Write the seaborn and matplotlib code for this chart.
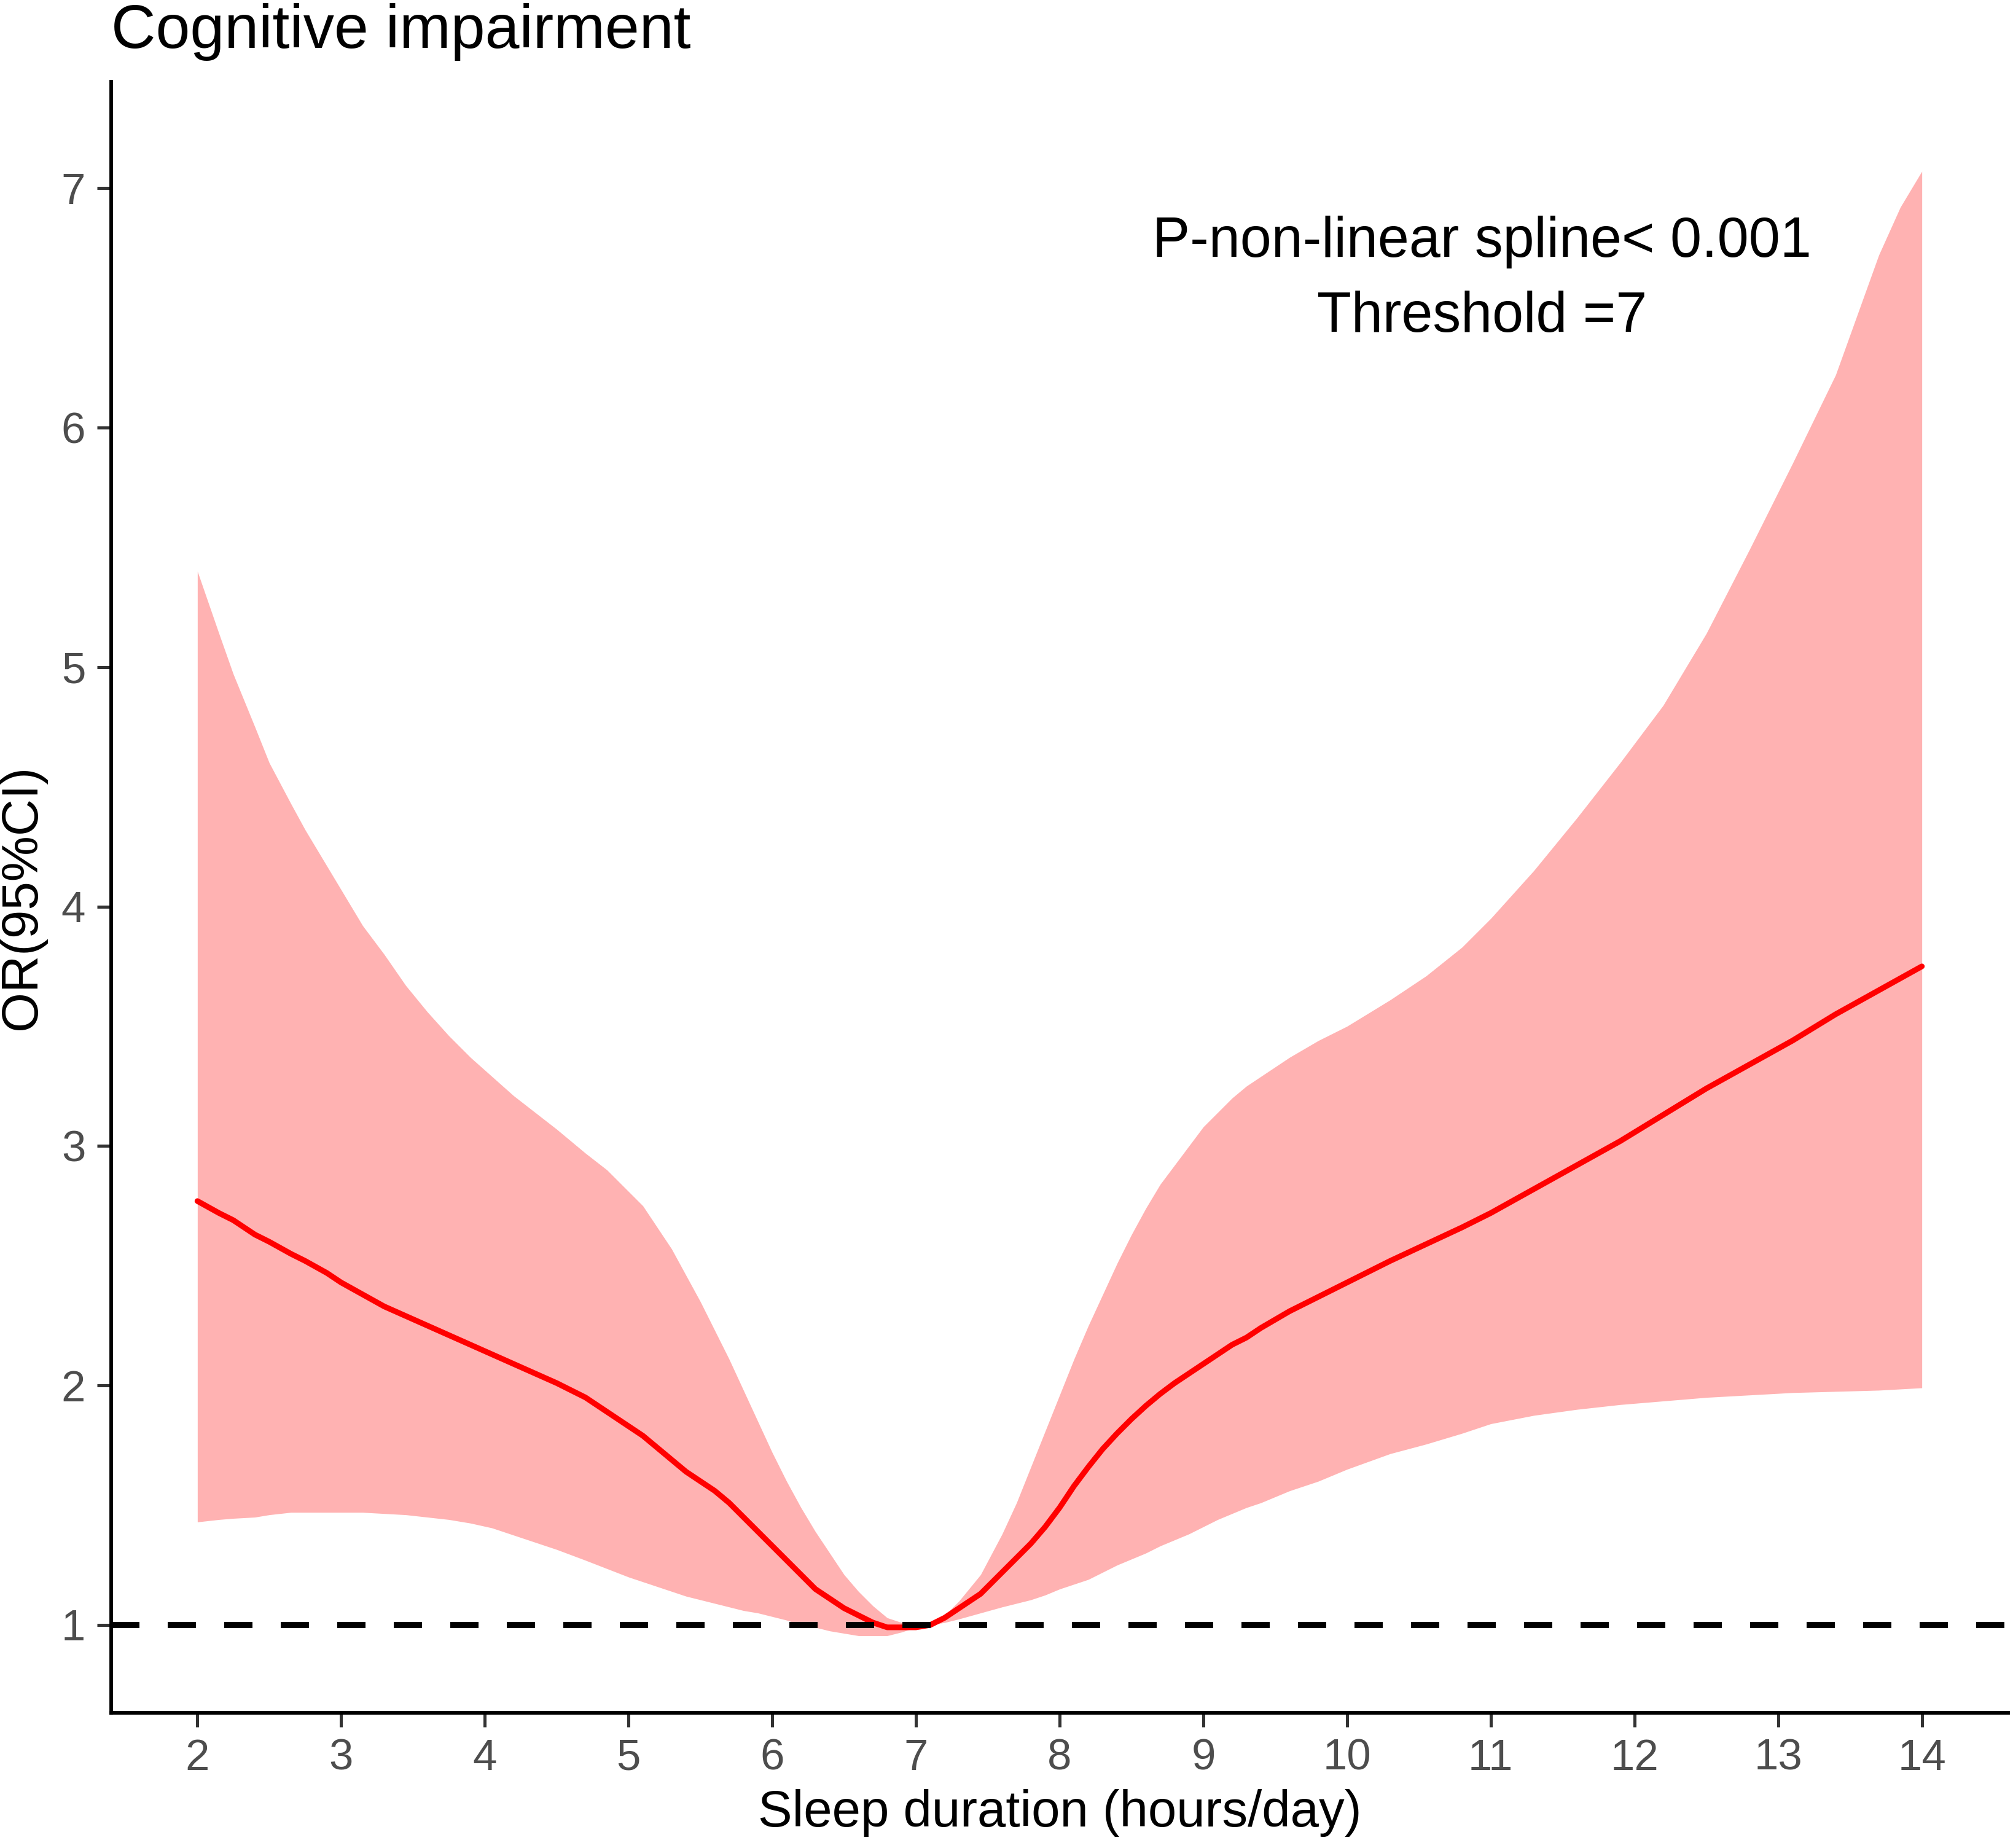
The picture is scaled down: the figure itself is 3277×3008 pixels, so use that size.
import matplotlib
matplotlib.use("Agg")
import matplotlib.pyplot as plt
import seaborn as sns
import pandas as pd

# ---- data ----
sleep_hours = [2.0, 2.15, 2.25, 2.4, 2.5, 2.65, 2.75, 2.9, 3.0, 3.15,
               3.3, 3.45, 3.6, 3.75, 3.9, 4.05, 4.2, 4.35, 4.5, 4.7,
               4.85, 5.0, 5.1, 5.2, 5.3, 5.4, 5.5, 5.6, 5.7, 5.8,
               5.9, 6.0, 6.1, 6.2, 6.3, 6.4, 6.5, 6.6, 6.7, 6.8,
               6.9, 7.0, 7.1, 7.2, 7.3, 7.45, 7.6, 7.7, 7.8, 7.9,
               8.0, 8.1, 8.2, 8.3, 8.4, 8.5, 8.6, 8.7, 8.8, 8.9,
               9.0, 9.1, 9.2, 9.3, 9.4, 9.6, 9.8, 10.0, 10.3, 10.55,
               10.8, 11.0, 11.3, 11.6, 11.9, 12.2, 12.5, 12.8, 13.1, 13.4,
               13.7, 13.85, 14.0]

or_estimate = [2.77, 2.72, 2.69, 2.63, 2.60, 2.55, 2.52, 2.47, 2.43, 2.38,
               2.33, 2.29, 2.25, 2.21, 2.17, 2.13, 2.09, 2.05, 2.01, 1.95,
               1.89, 1.83, 1.79, 1.74, 1.69, 1.64, 1.60, 1.56, 1.51, 1.45,
               1.39, 1.33, 1.27, 1.21, 1.15, 1.11, 1.07, 1.04, 1.01, 0.99,
               0.99, 0.99, 1.00, 1.03, 1.07, 1.13, 1.22, 1.28, 1.34, 1.41,
               1.49, 1.58, 1.66, 1.735, 1.80, 1.86, 1.915, 1.965, 2.01, 2.05,
               2.09, 2.13, 2.17, 2.20, 2.24, 2.31, 2.37, 2.43, 2.52, 2.59,
               2.66, 2.72, 2.82, 2.92, 3.02, 3.13, 3.24, 3.34, 3.44, 3.55,
               3.65, 3.70, 3.75]

ci_upper = [5.40, 5.14, 4.97, 4.75, 4.60, 4.43, 4.32, 4.17, 4.07, 3.92,
            3.80, 3.67, 3.56, 3.46, 3.37, 3.29, 3.21, 3.14, 3.07, 2.97,
            2.90, 2.81, 2.75, 2.66, 2.57, 2.46, 2.35, 2.23, 2.11, 1.98,
            1.85, 1.72, 1.60, 1.49, 1.39, 1.30, 1.21, 1.14, 1.08, 1.03,
            1.01, 1.00, 1.01, 1.04, 1.10, 1.21, 1.38, 1.51, 1.66, 1.81,
            1.96, 2.11, 2.25, 2.38, 2.51, 2.63, 2.74, 2.84, 2.92, 3.00,
            3.08, 3.14, 3.20, 3.25, 3.29, 3.37, 3.44, 3.50, 3.61, 3.71,
            3.83, 3.95, 4.15, 4.37, 4.60, 4.84, 5.14, 5.49, 5.85, 6.22,
            6.72, 6.92, 7.07]

ci_lower = [1.43, 1.44, 1.445, 1.45, 1.46, 1.47, 1.47, 1.47, 1.47, 1.47,
            1.465, 1.46, 1.45, 1.44, 1.425, 1.405, 1.375, 1.345, 1.315, 1.27,
            1.235, 1.20, 1.18, 1.16, 1.14, 1.12, 1.105, 1.09, 1.075, 1.06,
            1.05, 1.035, 1.02, 1.00, 0.99, 0.975, 0.965, 0.955, 0.955, 0.955,
            0.97, 0.99, 1.00, 1.01, 1.025, 1.05, 1.075, 1.09, 1.105, 1.125,
            1.15, 1.17, 1.19, 1.22, 1.25, 1.275, 1.30, 1.33, 1.355, 1.38,
            1.41, 1.44, 1.465, 1.49, 1.51, 1.56, 1.60, 1.65, 1.715, 1.755,
            1.80, 1.84, 1.875, 1.90, 1.92, 1.935, 1.95, 1.96, 1.97, 1.975,
            1.98, 1.985, 1.99]

x_ticks = [2, 3, 4, 5, 6, 7, 8, 9, 10, 11, 12, 13, 14]
y_ticks = [1, 2, 3, 4, 5, 6, 7]
reference_or = 1

title_text = "Cognitive impairment"
x_label = "Sleep duration (hours/day)"
y_label = "OR(95%CI)"
note_line1 = "P-non-linear spline< 0.001"
note_line2 = "Threshold =7"

df = pd.DataFrame({"hours": sleep_hours, "or": or_estimate,
                   "lo": ci_lower, "hi": ci_upper})

sns.set_theme(style="ticks")
plt.rcParams["font.family"] = ["Liberation Sans", "DejaVu Sans"]

W, H = 3278, 3008
fig = plt.figure(figsize=(W / 300, H / 300), dpi=300)
ax = fig.add_axes([181 / W, 1 - 2788 / H, (3269 - 181) / W, (2788 - 133) / H])

ax.fill_between(df["hours"], df["lo"], df["hi"], color="red", alpha=0.3, linewidth=0)
sns.lineplot(data=df, x="hours", y="or", ax=ax, color="red", linewidth=2.2,
             estimator=None, sort=False)
ax.axhline(reference_or, color="black", linewidth=2.4, linestyle=(0, (4.6, 4.6)))

ax.set_xlim(1.4, 14.6)
ax.set_ylim(0.633, 7.444)
ax.set_xticks(x_ticks)
ax.set_xticklabels([str(v) for v in x_ticks])
ax.set_yticks(y_ticks)
ax.set_yticklabels([str(v) for v in y_ticks])

for s in ["top", "right"]:
    ax.spines[s].set_visible(False)
for s in ["left", "bottom"]:
    ax.spines[s].set_color("black")
    ax.spines[s].set_linewidth(1.4)

ax.tick_params(axis="both", length=5.5, width=1.2, color="#333333",
               labelcolor="#4D4D4D", labelsize=17, pad=4.5)

ax.set_xlabel(x_label, fontsize=20, color="black", labelpad=4)
ax.set_ylabel(y_label, fontsize=20, color="black", labelpad=6)

ax.text(10.94, 6.713, note_line1, ha="center", va="baseline", fontsize=22, color="black")
ax.text(10.94, 6.40, note_line2, ha="center", va="baseline", fontsize=22, color="black")

fig.text(181 / W, 1 - 78 / H, title_text, ha="left", va="baseline", fontsize=24.1, color="black")

fig.savefig("out.png", dpi=300, facecolor="white")
